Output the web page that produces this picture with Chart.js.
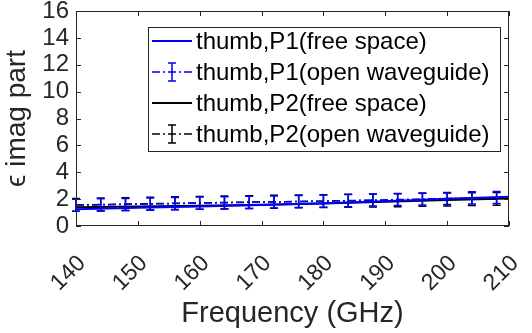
<!DOCTYPE html>
<html>
<head>
<meta charset="utf-8">
<script src="https://cdn.jsdelivr.net/npm/chart.js@4"></script>
<style>
  html, body { margin: 0; padding: 0; background: #fff; }
  #wrap { width: 532px; height: 333px; }
</style>
</head>
<body>
<div id="wrap"><canvas id="c" width="532" height="333"></canvas></div>
<script>
// data
const freqLine = [140, 150, 160, 170, 180, 190, 200, 210];
const p1Free = [1.25, 1.35, 1.45, 1.56, 1.70, 1.85, 2.02, 2.17];
const p2Free = [1.40, 1.45, 1.50, 1.58, 1.68, 1.80, 1.93, 2.05];

const freqMeas = [140, 144, 148, 152, 156, 160, 164, 168, 172, 176, 180, 184, 188, 192, 196, 200, 204, 208];
const p1Open = [1.55, 1.58, 1.60, 1.64, 1.67, 1.70, 1.73, 1.76, 1.79, 1.82, 1.85, 1.89, 1.93, 1.97, 2.01, 2.05, 2.09, 2.12];
const p1Err  = [0.45, 0.45, 0.45, 0.45, 0.45, 0.45, 0.45, 0.45, 0.45, 0.45, 0.45, 0.45, 0.45, 0.45, 0.45, 0.45, 0.45, 0.45];
const p2Open = [1.57, 1.60, 1.63, 1.66, 1.69, 1.72, 1.75, 1.78, 1.80, 1.83, 1.85, 1.88, 1.90, 1.92, 1.95, 1.97, 2.00, 2.02];
const p2Err  = [0.48, 0.48, 0.48, 0.48, 0.48, 0.48, 0.48, 0.48, 0.48, 0.48, 0.48, 0.48, 0.48, 0.48, 0.48, 0.48, 0.48, 0.48];

const legendLabels = [
  'thumb,P1(free space)',
  'thumb,P1(open waveguide)',
  'thumb,P2(free space)',
  'thumb,P2(open waveguide)'
];

const AX = '#262626';
const FONT = '"Liberation Sans", Arial, sans-serif';
const DASHDOT = [8, 3, 2, 3];

const pts = (xs, ys) => xs.map((x, i) => ({ x: x, y: ys[i] }));

// error bars drawn right after each dataset so stacking order follows the datasets
const errorBars = {
  id: 'errorBars',
  afterDatasetDraw(chart, args) {
    const ds = chart.data.datasets[args.index];
    if (!ds.errors) return;
    const ctx = chart.ctx;
    const xs = chart.scales.x, ys = chart.scales.y;
    ctx.save();
    ctx.strokeStyle = ds.borderColor;
    ctx.lineWidth = 1.5;
    ctx.setLineDash([]);
    ds.data.forEach((p, i) => {
      const e = ds.errors[i];
      const px = xs.getPixelForValue(p.x);
      const top = ys.getPixelForValue(p.y + e);
      const bot = ys.getPixelForValue(p.y - e);
      ctx.beginPath();
      ctx.moveTo(px, top); ctx.lineTo(px, bot);
      ctx.moveTo(px - 4, top); ctx.lineTo(px + 4, top);
      ctx.moveTo(px - 4, bot); ctx.lineTo(px + 4, bot);
      ctx.stroke();
    });
    ctx.restore();
  }
};

// MATLAB style box with inward ticks on all sides
const axesBox = {
  id: 'axesBox',
  afterDatasetsDraw(chart) {
    const { ctx, chartArea: a } = chart;
    const xs = chart.scales.x, ys = chart.scales.y;
    ctx.save();
    ctx.strokeStyle = AX;
    ctx.lineWidth = 1;
    ctx.setLineDash([]);
    ctx.strokeRect(a.left + 0.5, a.top + 0.5, a.right - a.left - 1, a.bottom - a.top - 1);
    ctx.beginPath();
    xs.ticks.forEach(t => {
      const px = Math.round(xs.getPixelForValue(t.value)) + 0.5;
      ctx.moveTo(px, a.bottom); ctx.lineTo(px, a.bottom - 5);
      ctx.moveTo(px, a.top); ctx.lineTo(px, a.top + 5);
    });
    ys.ticks.forEach(t => {
      const py = Math.round(ys.getPixelForValue(t.value)) + 0.5;
      ctx.moveTo(a.left, py); ctx.lineTo(a.left + 5, py);
      ctx.moveTo(a.right, py); ctx.lineTo(a.right - 5, py);
    });
    ctx.stroke();
    ctx.restore();
  }
};

// boxed legend like the original
const boxLegend = {
  id: 'boxLegend',
  afterDraw(chart) {
    const ctx = chart.ctx;
    const bx = 148, by = 27, bw = 352, bh = 124;
    const rows = [41, 72, 103, 134];
    ctx.save();
    ctx.fillStyle = '#fff';
    ctx.fillRect(bx, by, bw, bh);
    ctx.strokeStyle = AX;
    ctx.lineWidth = 1;
    ctx.strokeRect(bx + 0.5, by + 0.5, bw, bh);
    chart.data.datasets.forEach((ds, i) => {
      const y = rows[i];
      ctx.strokeStyle = ds.borderColor;
      ctx.lineWidth = ds.errors ? 1.5 : 2;
      ctx.setLineDash(ds.errors ? DASHDOT : []);
      ctx.beginPath();
      ctx.moveTo(152, y); ctx.lineTo(192, y);
      ctx.stroke();
      if (ds.errors) {
        ctx.setLineDash([]);
        ctx.beginPath();
        ctx.moveTo(172, y - 9); ctx.lineTo(172, y + 9);
        ctx.moveTo(168, y - 9); ctx.lineTo(176, y - 9);
        ctx.moveTo(168, y + 9); ctx.lineTo(176, y + 9);
        ctx.stroke();
      }
      ctx.fillStyle = '#000';
      ctx.font = '24px ' + FONT;
      ctx.textBaseline = 'middle';
      ctx.textAlign = 'left';
      ctx.fillText(legendLabels[i], 196, y + 1);
    });
    ctx.restore();
  }
};

new Chart(document.getElementById('c'), {
  type: 'line',
  data: {
    datasets: [
      { label: legendLabels[0], data: pts(freqLine, p1Free), borderColor: '#0000ff', borderWidth: 2, pointRadius: 0 },
      { label: legendLabels[1], data: pts(freqMeas, p1Open), errors: p1Err, borderColor: '#0000ff', borderWidth: 1.5, borderDash: DASHDOT, pointRadius: 0 },
      { label: legendLabels[2], data: pts(freqLine, p2Free), borderColor: '#000000', borderWidth: 2, pointRadius: 0 },
      { label: legendLabels[3], data: pts(freqMeas, p2Open), errors: p2Err, borderColor: '#000000', borderWidth: 1.5, borderDash: DASHDOT, pointRadius: 0 }
    ]
  },
  options: {
    responsive: false,
    animation: false,
    layout: { padding: { top: 11, right: 23, left: 0, bottom: 0 } },
    plugins: { legend: { display: false }, tooltip: { enabled: false } },
    scales: {
      x: {
        type: 'linear', min: 140, max: 210,
        afterFit: s => { s.height = 107; s.paddingLeft = 0; s.paddingRight = 0; },
        grid: { drawOnChartArea: false, drawTicks: false },
        border: { display: false },
        ticks: { stepSize: 10, autoSkip: false, minRotation: 45, maxRotation: 45, padding: 24, labelOffset: 6, color: AX, font: { size: 23, family: FONT } },
        title: { display: true, text: 'Frequency (GHz)', color: AX, font: { size: 29, family: FONT }, padding: { top: 0, bottom: 2 } }
      },
      y: {
        min: 0, max: 16,
        afterFit: s => { s.width = 76; s.paddingTop = 0; s.paddingBottom = 0; },
        grid: { drawOnChartArea: false, drawTicks: false },
        border: { display: false },
        ticks: { stepSize: 2, autoSkip: false, padding: 7, color: AX, font: { size: 24, family: FONT } },
        title: { display: true, text: 'ϵ imag part', color: AX, font: { size: 28, family: FONT }, padding: { top: 0, bottom: 2 } }
      }
    }
  },
  plugins: [errorBars, axesBox, boxLegend]
});
</script>
</body>
</html>
